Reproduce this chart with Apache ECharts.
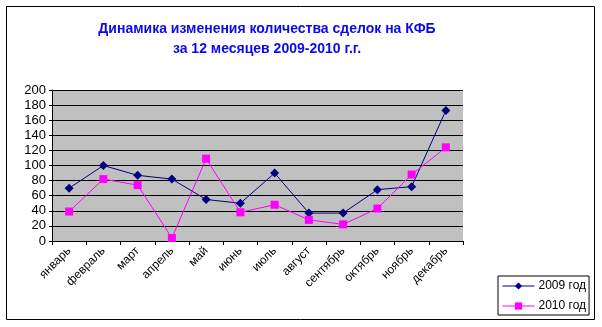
<!DOCTYPE html>
<html><head><meta charset="utf-8">
<script src="https://cdn.jsdelivr.net/npm/echarts@6/dist/echarts.min.js"></script>
<style>html,body{margin:0;padding:0;background:#fff}#c{width:602px;height:327px}</style>
</head><body><div id="c"></div>
<script>
var months = ['январь','февраль','март','апрель','май','июнь','июль','август','сентябрь','октябрь','ноябрь','декабрь'];
var s2009 = [70, 100, 87, 82, 55, 50, 90, 37, 37, 68, 72, 173];
var s2010 = [39, 82, 74, 4, 109, 38, 48, 28, 22, 43, 88, 124];
var chart = echarts.init(document.getElementById('c'), null, {renderer:'canvas'});
chart.setOption({
  animation:false,
  backgroundColor:'#fff',
  title:{
    text:'Динамика изменения количества сделок на КФБ\nза 12 месяцев 2009-2010 г.г.',
    left:262, top:14, textAlign:'center',
    textStyle:{color:'#0a0aee', fontFamily:'Liberation Sans', fontWeight:'bold', fontSize:14, lineHeight:20}
  },
  graphic:[{type:'rect', shape:{x:6.5,y:6.5,width:588,height:313}, style:{fill:null, stroke:'#000', lineWidth:1}, silent:true, z:-1}],
  legend:{
    orient:'vertical', left:498, top:276,
    backgroundColor:'#fff', borderColor:'#000', borderWidth:1, padding:[4,3,3,4],
    itemWidth:32, itemHeight:9, itemGap:8,
    lineStyle:{width:1},
    textStyle:{fontFamily:'Liberation Sans', fontSize:12, color:'#000', padding:[0,0,0,-1]},
    data:['2009 год','2010 год']
  },
  grid:{left:52, right:139, top:90, bottom:86, show:true, backgroundColor:'#c0c0c0', borderWidth:0},
  xAxis:{
    type:'category', data:months, boundaryGap:true,
    axisLine:{lineStyle:{color:'#000', width:1}},
    axisTick:{show:true, alignWithLabel:false, length:4, lineStyle:{color:'#000'}},
    axisLabel:{rotate:45, interval:0, fontFamily:'Liberation Sans', fontSize:12, color:'#000', margin:8}
  },
  yAxis:{
    type:'value', min:0, max:200, interval:20,
    axisLine:{show:true, lineStyle:{color:'#000'}},
    axisTick:{show:true, length:3, lineStyle:{color:'#000'}},
    axisLabel:{fontFamily:'Liberation Sans', fontSize:13, color:'#000', margin:6},
    splitLine:{show:true, lineStyle:{color:'#000', width:1}}
  },
  series:[
    {name:'2009 год', type:'line', data:s2009, symbol:'diamond', symbolSize:9,
     lineStyle:{color:'#000080', width:1}, itemStyle:{color:'#000080'}},
    {name:'2010 год', type:'line', data:s2010, symbol:'rect', symbolSize:8,
     lineStyle:{color:'#ff00ff', width:1}, itemStyle:{color:'#ff00ff'}}
  ]
});
</script></body></html>
